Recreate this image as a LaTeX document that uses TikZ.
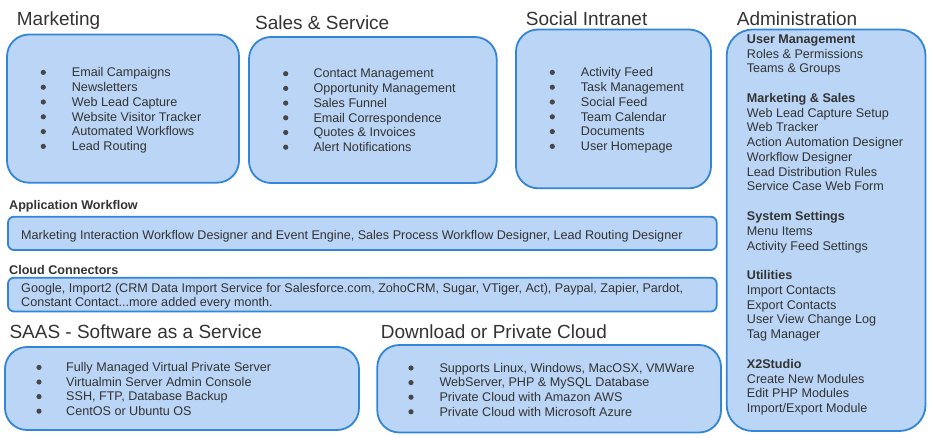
\documentclass[tikz,border=0pt]{standalone}
\usepackage{fontspec}
\setmainfont{Liberation Sans}
\usetikzlibrary{positioning}
\definecolor{cfill}{HTML}{BAD5F5}
\definecolor{cline}{HTML}{3385D8}
\definecolor{ctext}{HTML}{333333}
\tikzset{
  every picture/.style={x=1pt, y=-1pt},
  panel/.style={draw=cline, fill=cfill, rounded corners=#1, line width=1.8pt, inner sep=0pt},
  panel/.default=22pt,
  title/.style={font=\fontsize{19}{22}\selectfont, text=ctext, anchor=base west, inner sep=0pt},
  heading/.style={font=\fontsize{12.6}{14.8}\selectfont\bfseries, text=ctext, anchor=base west, inner sep=0pt},
  entry/.style={font=\fontsize{12.6}{14.8}\selectfont, text=ctext, anchor=base west, inner sep=0pt},
  dot/.style={circle, fill=ctext!90, inner sep=0pt, minimum size=5.2pt, yshift=4.3pt},
}

\begin{document}
\begin{tikzpicture}
  \useasboundingbox (0,0) rectangle (932,438);
  % top row panels
  \node[title] (mkt-title) at (16.7, 25.7) {Marketing};
  \draw[panel] (7,34.5) rectangle (239,182.7);
  \foreach \t [count=\i] in {Email Campaigns, Newsletters, Web Lead Capture, Website Visitor Tracker, Automated Workflows, Lead Routing} {
    \node[dot] (mkt-b\i) at (43.3, 76.7+14.8*\i-14.8) {};
    \node[entry] (mkt-t\i) at (71.7, 76.7+14.8*\i-14.8) {\t};
  }
  \node[title] (sal-title) at (255, 30) {Sales \& Service};
  \draw[panel] (249,37) rectangle (496.7,183);
  \foreach \t [count=\i] in {Contact Management, Opportunity Management, Sales Funnel, Email Correspondence, Quotes \& Invoices, Alert Notifications} {
    \node[dot] (sal-b\i) at (285.7, 78+14.7*\i-14.7) {};
    \node[entry] (sal-t\i) at (313.3, 78+14.7*\i-14.7) {\t};
  }
  \node[title] (soc-title) at (525.7, 25.7) {Social Intranet};
  \draw[panel] (516,29.5) rectangle (711,188.3);
  \foreach \t [count=\i] in {Activity Feed, Task Management, Social Feed, Team Calendar, Documents, User Homepage} {
    \node[dot] (soc-b\i) at (552.3, 76.7+14.8*\i-14.8) {};
    \node[entry] (soc-t\i) at (580.7, 76.7+14.8*\i-14.8) {\t};
  }
  % administration column
  \node[title] (adm-title) at (736.7, 26) {Administration};
  \draw[panel=26pt] (726.7,29.5) rectangle (925.5,431);
  \foreach \i/\t in {0/User Management, 4/Marketing \& Sales, 12/System Settings, 16/Utilities, 22/X2Studio}
    \node[heading] (adm-h\i) at (746.7, 43.3+14.77*\i) {\t};
  \foreach \i/\t in {1/Roles \& Permissions, 2/Teams \& Groups, 5/Web Lead Capture Setup, 6/Web Tracker, 7/Action Automation Designer, 8/Workflow Designer, 9/Lead Distribution Rules, 10/Service Case Web Form, 13/Menu Items, 14/Activity Feed Settings, 17/Import Contacts, 18/Export Contacts, 19/User View Change Log, 20/Tag Manager, 23/Create New Modules, 24/Edit PHP Modules, 25/{Import/Export Module}}
    \node[entry] (adm-t\i) at (746.7, 43.3+14.77*\i) {\t};
  % middle bars
  \node[heading] (wf-label) at (9, 209.5) {Application Workflow};
  \draw[panel=6pt] (8,216.7) rectangle (716.7,250);
  \node[entry] (wf-text) at (21, 239.5) {Marketing Interaction Workflow Designer and Event Engine, Sales Process Workflow Designer, Lead Routing Designer};
  \node[heading] (cc-label) at (9, 274.3) {Cloud Connectors};
  \draw[panel=6pt] (8,277.7) rectangle (716.7,311.5);
  \node[entry] (cc-text1) at (21, 292.3) {Google, Import2 (CRM Data Import Service for Salesforce.com, ZohoCRM, Sugar, VTiger, Act), Paypal, Zapier, Pardot,};
  \node[entry, below=0pt of cc-text1.base west, anchor=base west, yshift=-14.6pt] (cc-text2) {Constant Contact...more added every month.};
  % bottom row panels
  \node[title] (saas-title) at (9.3, 338.5) {SAAS - Software as a Service};
  \draw[panel] (5,347) rectangle (359,430);
  \foreach \t [count=\i] in {Fully Managed Virtual Private Server, Virtualmin Server Admin Console, {SSH, FTP, Database Backup}, CentOS or Ubuntu OS} {
    \node[dot] (saas-b\i) at (39, 371.7+14.6*\i-14.6) {};
    \node[entry] (saas-t\i) at (66, 371.7+14.6*\i-14.6) {\t};
  }
  \node[title] (dl-title) at (380.7, 338.5) {Download or Private Cloud};
  \draw[panel] (377.3,345) rectangle (721,432.5);
  \foreach \t [count=\i] in {{Supports Linux, Windows, MacOSX, VMWare}, {WebServer, PHP \& MySQL Database}, Private Cloud with Amazon AWS, Private Cloud with Microsoft Azure} {
    \node[dot] (dl-b\i) at (411, 372.3+14.6*\i-14.6) {};
    \node[entry] (dl-t\i) at (439.3, 372.3+14.6*\i-14.6) {\t};
  }
\end{tikzpicture}
\end{document}
